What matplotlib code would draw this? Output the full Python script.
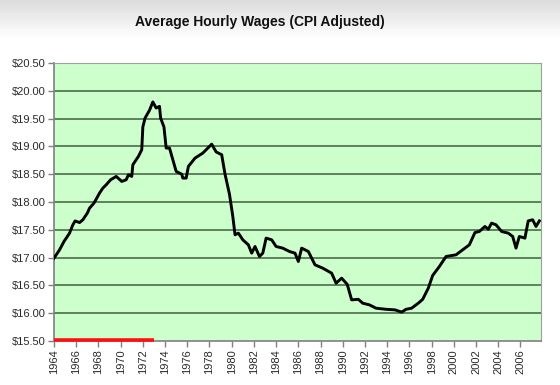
#!/usr/bin/env python3

"""
plot.py

Average hourly wages (CPI adjusted), 1964 - 2007
"""

import numpy as np
import matplotlib.pyplot as plt

# values (decimal year, dollars)
years = [1964.0, 1964.5, 1964.9, 1965.4, 1965.7, 1965.9, 1966.3, 1966.6, 1967.0,
         1967.2, 1967.6, 1968.1, 1968.4, 1968.7, 1969.1, 1969.6, 1970.1, 1970.5,
         1970.7, 1971.0, 1971.1, 1971.6, 1971.9, 1972.0, 1972.2, 1972.6, 1972.9,
         1973.2, 1973.5, 1973.6, 1973.9, 1974.1, 1974.4, 1975.0, 1975.5, 1975.6,
         1975.9, 1976.1, 1976.7, 1977.4, 1977.7, 1978.2, 1978.6, 1979.1, 1979.4,
         1979.8, 1980.1, 1980.3, 1980.6, 1981.0, 1981.5, 1981.8, 1982.1, 1982.5,
         1982.8, 1983.1, 1983.6, 1984.0, 1984.6, 1985.2, 1985.7, 1986.0, 1986.3,
         1986.9, 1987.5, 1988.2, 1989.0, 1989.4, 1989.9, 1990.4, 1990.8, 1991.4,
         1991.8, 1992.4, 1993.0, 1993.9, 1994.7, 1995.3, 1995.7, 1996.2, 1996.8,
         1997.2, 1997.7, 1998.1, 1998.7, 1999.3, 2000.2, 2000.8, 2001.4, 2001.9,
         2002.3, 2002.8, 2003.1, 2003.4, 2003.8, 2004.3, 2004.9, 2005.3, 2005.6,
         2005.9, 2006.4, 2006.7, 2007.1, 2007.4, 2007.7]
wages = [16.99, 17.14, 17.29, 17.44, 17.59, 17.66, 17.63, 17.68, 17.80,
         17.89, 17.98, 18.16, 18.25, 18.31, 18.40, 18.46, 18.37, 18.40,
         18.49, 18.46, 18.67, 18.82, 18.94, 19.35, 19.51, 19.65, 19.80,
         19.69, 19.72, 19.51, 19.35, 18.97, 18.97, 18.55, 18.50, 18.43,
         18.43, 18.64, 18.79, 18.88, 18.94, 19.04, 18.90, 18.85, 18.50,
         18.14, 17.74, 17.41, 17.44, 17.32, 17.23, 17.08, 17.20, 17.02,
         17.08, 17.35, 17.32, 17.20, 17.17, 17.11, 17.08, 16.93, 17.17,
         17.11, 16.87, 16.81, 16.72, 16.54, 16.63, 16.52, 16.24, 16.25,
         16.18, 16.15, 16.09, 16.07, 16.06, 16.02, 16.07, 16.09, 16.18,
         16.25, 16.45, 16.68, 16.84, 17.02, 17.05, 17.14, 17.23, 17.45,
         17.47, 17.56, 17.51, 17.62, 17.59, 17.47, 17.44, 17.38, 17.17,
         17.38, 17.35, 17.66, 17.68, 17.56, 17.66]

x_ticks = list(range(1964, 2007, 2))
y_ticks = np.arange(15.5, 20.51, 0.5)
y_labels = ['${:.2f}'.format(v) for v in y_ticks]

# red marker along the bottom of the axis
red_span = [1964.0, 1973.0]

plt.rcParams['font.family'] = ['Liberation Sans', 'DejaVu Sans']

fig = plt.figure(figsize=(5.6, 3.85), dpi=100)

# faint grey fade at the bottom of the screenshot
bg = fig.add_axes([0, 0, 1, 1], zorder=-5)
fade = np.clip((np.linspace(0, 1, 385) - 0.90) / 0.10, 0, 1)[::-1]
shade = 1 - 0.14 * fade[:, None] * np.ones((385, 560))
bg.imshow(shade, cmap='gray', vmin=0, vmax=1, aspect='auto',
          extent=[0, 1, 0, 1], origin='upper')
bg.axis('off')

ax = fig.add_axes([54 / 560, 1 - 341 / 385, 487 / 560, 278 / 385])
ax.set_facecolor('#ccffcc')

for v in y_ticks[1:]:
    ax.axhline(v, color='#3f5f3f', lw=1.1, zorder=1)

ax.plot(years, wages, color='black', lw=2.1, zorder=3)
ax.plot(red_span, [15.515, 15.515], color='#ff1010', lw=2.6,
        solid_capstyle='butt', zorder=4, clip_on=False)

ax.set_xlim(1964, 2007.85)
ax.set_ylim(15.5, 20.5)
ax.set_xticks(x_ticks)
ax.set_xticklabels([str(t) for t in x_ticks], rotation=90)
ax.set_yticks(y_ticks)
ax.set_yticklabels(y_labels)
ax.tick_params(axis='both', labelsize=8, colors='#2a2a2a', length=4,
               width=1, direction='out', pad=2)
ax.tick_params(axis='both', color='#808080')

for side in ['left', 'bottom']:
    ax.spines[side].set_color('#808080')
    ax.spines[side].set_linewidth(1.2)
for side in ['right', 'top']:
    ax.spines[side].set_color('#a0a0a0')
    ax.spines[side].set_linewidth(0.8)

fig.text(260 / 560, 1 - 22 / 385, 'Average Hourly Wages (CPI Adjusted)',
         ha='center', va='center', fontsize=10, fontweight='bold',
         color='#111111')

fig.savefig('out.png', dpi=100)
